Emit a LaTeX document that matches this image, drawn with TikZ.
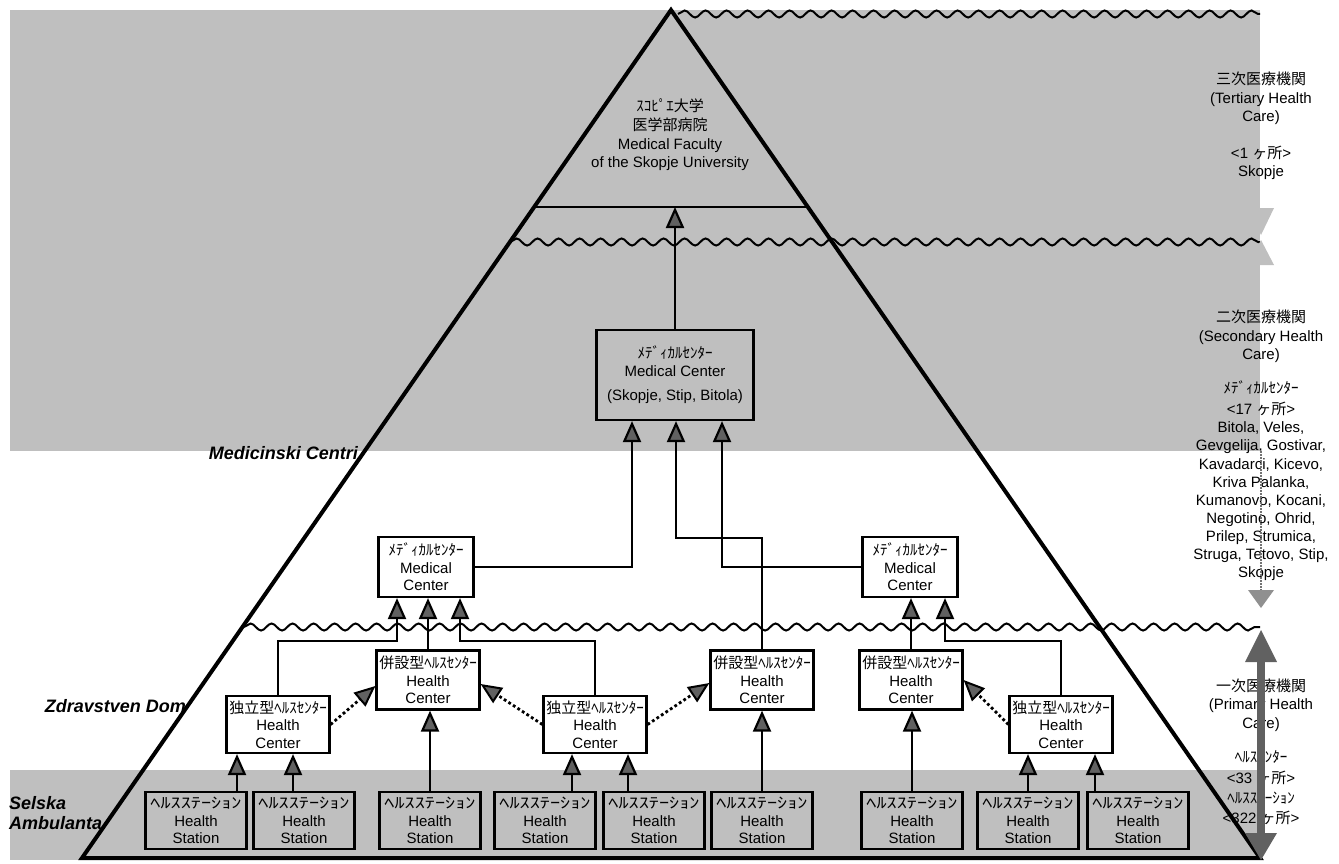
\documentclass[tikz,border=0pt]{standalone}
\usepackage{fontspec}
\usepackage{graphicx}
\setmainfont{Liberation Sans}
\newfontfamily\jp{Noto Sans CJK JP}
\usetikzlibrary{arrows.meta,decorations.pathmorphing,calc}
\definecolor{shadegray}{gray}{0.75}
\definecolor{tipgray}{gray}{0.38}
\newcommand\stnjp{{\scalebox{1.35}[1]{\jp ﾍﾙｽｽﾃｰｼｮﾝ}}}
\begin{document}
\begin{tikzpicture}[x=1pt,y=-1pt,
  hcbox/.style={draw, line width=2.2pt, fill=white, inner sep=0pt, align=center,
     font=\fontsize{15}{17.5}\selectfont, minimum width=103pt, minimum height=59pt},
  stnbox/.style={draw, line width=2.2pt, inner sep=0pt, align=center,
     font=\fontsize{15}{17.5}\selectfont, minimum width=101pt, minimum height=57pt},
  arr/.style={line width=2.2pt, -{Triangle[length=21pt,width=18pt,fill=tipgray]}},
  darr/.style={line width=2.8pt, dash pattern=on 2.8pt off 2.6pt, -{Triangle[length=21pt,width=18pt,fill=tipgray,line width=2pt]}},
  wave/.style={line width=2pt, decorate, decoration={snake, amplitude=3.5pt, segment length=21pt}},
  lbl/.style={inner sep=0pt, font=\fontsize{18}{20}\selectfont\bfseries\itshape},
  rt/.style={inner sep=0pt, align=center, font=\fontsize{15}{18.3}\selectfont}]
\useasboundingbox (0,0) rectangle (1339,864);

% shaded bands
\fill[shadegray] (10,10) rectangle (1260,451);
\fill[shadegray] (10,770) rectangle (1260,860);

% pyramid
\coordinate (apex) at (671,10);
\coordinate (bl) at (82,858);
\coordinate (br) at (1260,858);
\draw[line width=2.2pt] (534,207) coordinate (hlL) -- (808,207) coordinate (hlR);
\coordinate (hl) at (676,207);

% waves
\draw[wave] (678,14) -- (1260,14);
\draw[wave] (510,242) -- (1260,242);
\draw[wave] (244,627) -- (1260,627);

\draw[line width=4pt, line join=miter] (apex) -- (bl) -- (br) -- cycle;

% university text
\node[rt, font=\fontsize{15}{18.7}\selectfont] (uni) at (670,135)
  {{\jp ｽｺﾋﾟｴ大学}\\{\jp 医学部病院}\\Medical Faculty\\of the Skopje University};

% medical centers
\node[draw, line width=2.2pt, inner sep=0pt, align=center, minimum width=157pt, minimum height=90pt,
      font=\fontsize{15}{18}\selectfont] (MC) at (675,375)
  {{\jp ﾒﾃﾞｨｶﾙｾﾝﾀｰ}\\Medical Center\\[6pt](Skopje, Stip, Bitola)};
\node[hcbox, minimum width=95pt, minimum height=60pt] (LMC) at (426,567)
  {{\jp ﾒﾃﾞｨｶﾙｾﾝﾀｰ}\\Medical\\Center};
\node[hcbox, minimum width=95pt, minimum height=60pt] (RMC) at (910,567)
  {{\jp ﾒﾃﾞｨｶﾙｾﾝﾀｰ}\\Medical\\Center};

% health centers
\node[hcbox] (PL) at (428,680) {{\jp 併設型ﾍﾙｽｾﾝﾀｰ}\\Health\\Center};
\node[hcbox] (PM) at (762,680) {{\jp 併設型ﾍﾙｽｾﾝﾀｰ}\\Health\\Center};
\node[hcbox] (PR) at (911,680) {{\jp 併設型ﾍﾙｽｾﾝﾀｰ}\\Health\\Center};
\node[hcbox, minimum height=57pt] (IL) at (278,724.5) {{\jp 独立型ﾍﾙｽｾﾝﾀｰ}\\Health\\Center};
\node[hcbox, minimum height=57pt] (IM) at (595,724.5) {{\jp 独立型ﾍﾙｽｾﾝﾀｰ}\\Health\\Center};
\node[hcbox, minimum height=57pt] (IR) at (1061,724.5) {{\jp 独立型ﾍﾙｽｾﾝﾀｰ}\\Health\\Center};

% health stations
\foreach \n/\x in {S1/196,S2/304,S3/430,S4/545,S5/654,S6/762,S7/912,S8/1028,S9/1138}
  \node[stnbox] (\n) at (\x,820.5) {\stnjp\\Health\\Station};

% station -> centre arrows
\draw[arr] (237,0 |- S1.north) -- (237,0 |- IL.south);
\draw[arr] (293,0 |- S2.north) -- (293,0 |- IL.south);
\draw[arr] (S3.north) -- (S3.north |- PL.south);
\draw[arr] (572,0 |- S4.north) -- (572,0 |- IM.south);
\draw[arr] (628,0 |- S5.north) -- (628,0 |- IM.south);
\draw[arr] (S6.north) -- (S6.north |- PM.south);
\draw[arr] (S7.north) -- (S7.north |- PR.south);
\draw[arr] (1028,0 |- S8.north) -- (1028,0 |- IR.south);
\draw[arr] (1095,0 |- S9.north) -- (1095,0 |- IR.south);

% dotted arrows
\draw[darr] (IL.east) -- ($(PL.west)+(0,6)$);
\draw[darr] (IM.west) -- ($(PL.east)+(0,4)$);
\draw[darr] (IM.east) -- ($(PM.west)+(0,3)$);
\draw[darr] (IR.west) -- (PR.east);

% centre -> medical centre arrows
\draw[arr] (IL.north) |- (397,641) -- (397,0 |- LMC.south);
\draw[arr] (PL.north) -- (PL.north |- LMC.south);
\draw[arr] (IM.north) |- (460,641) -- (460,0 |- LMC.south);
\draw[arr] (PR.north) -- (PR.north |- RMC.south);
\draw[arr] (IR.north) |- (945,641) -- (945,0 |- RMC.south);

% medical centre -> MC arrows
\draw[arr] (LMC.east) -| (632,0 |- MC.south);
\draw[arr] (RMC.west) -| (722,0 |- MC.south);
\draw[arr] (PM.north) |- (676,538) -- (676,0 |- MC.south);
\draw[arr] (MC.north) -- (MC.north |- hl);

% left labels
\node[lbl, anchor=east] (mcl) at (358,453) {Medicinski Centri};
\node[lbl, anchor=east] (zdl) at (186,706) {Zdravstven Dom};
\node[lbl, anchor=west, align=left] (sal) at (9,813) {Selska\\Ambulanta};

% right column text
\node[rt] (tert) at (1261,126)
  {{\jp 三次医療機関}\\(Tertiary Health\\Care)\\[18.3pt]<1 {\jp ヶ所}>\\Skopje};
\node[rt] (sec1) at (1261,336.5) {{\jp 二次医療機関}\\(Secondary Health\\Care)};
\node[rt] (sec2) at (1261,388) {\jp ﾒﾃﾞｨｶﾙｾﾝﾀｰ};
\node[rt, font=\fontsize{15}{18.1}\selectfont] (sec3) at (1261,491.5)
  {<17 {\jp ヶ所}>\\Bitola, Veles,\\Gevgelija, Gostivar,\\Kavadarci, Kicevo,\\Kriva Palanka,\\Kumanovo, Kocani,\\Negotino, Ohrid,\\Prilep, Strumica,\\Struga, Tetovo, Stip,\\Skopje};
\node[rt] (pri1) at (1261,705) {{\jp 一次医療機関}\\(Primary Health\\Care)};
\node[rt, font=\fontsize{15}{20.3}\selectfont] (pri2) at (1261,788)
  {{\jp ﾍﾙｽｾﾝﾀｰ}\\<33 {\jp ヶ所}>\\{\jp ﾍﾙｽｽﾃｰｼｮﾝ}\\<322 {\jp ヶ所}>};

% right range markers
\fill[shadegray] (1248,208) -- (1274,208) -- (1261,235) -- cycle;
\fill[shadegray] (1261,240) -- (1274,265) -- (1248,265) -- cycle;
\draw[shadegray!60!black, line width=2pt, dash pattern=on 1.5pt off 1.5pt] (1261,451) -- (1261,590);
\fill[shadegray!75!black] (1248,590) -- (1274,590) -- (1261,608) -- cycle;
\fill[tipgray] (1261,630) -- (1277,662) -- (1245,662) -- cycle;
\fill[tipgray] (1257,662) rectangle (1265,833);
\fill[tipgray] (1245,833) -- (1277,833) -- (1261,860) -- cycle;
\end{tikzpicture}
\end{document}
